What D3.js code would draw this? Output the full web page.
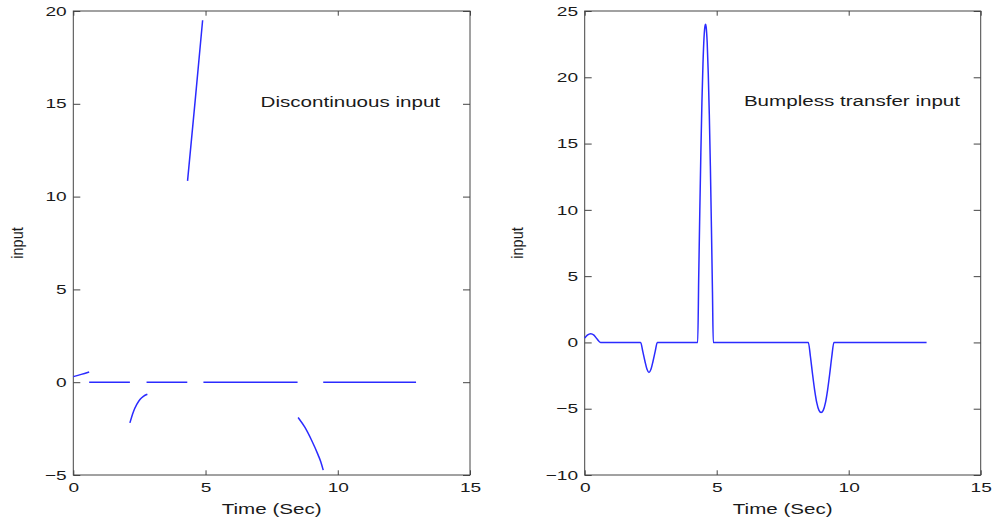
<!DOCTYPE html>
<html>
<head>
<meta charset="utf-8">
<script src="https://cdn.jsdelivr.net/npm/d3@7/dist/d3.min.js"></script>
<style>
  html, body { margin: 0; padding: 0; background: #fff; }
  svg { display: block; }
  text { font-family: "Liberation Sans", Arial, Helvetica, sans-serif; fill: #1a1a1a; }
</style>
</head>
<body>
<svg id="chart" width="993" height="522"></svg>
<script>
// ---------------- data ----------------
const xTickValues = [0, 5, 10, 15];
const leftYTicks = [-5, 0, 5, 10, 15, 20];
const rightYTicks = [-10, -5, 0, 5, 10, 15, 20, 25];

// Left panel: discontinuous input (separate pieces) [time, input]
const discStart = [[0, 0.3], [0.3, 0.42], [0.6, 0.55]];
const discZeroSpans = [[0.6, 2.14], [2.77, 4.31], [4.92, 8.48], [9.45, 12.96]];
const discDip1 = [[2.14, -2.19], [2.27, -1.6], [2.4, -1.2], [2.52, -0.93], [2.65, -0.76], [2.8, -0.65]];
const discSpike = [[4.32, 10.85], [4.61, 15.2], [4.89, 19.5]];
const discDip2 = [[8.5, -1.9], [8.76, -2.44], [9.01, -3.13], [9.26, -3.93], [9.36, -4.3], [9.45, -4.74]];

// Right panel: bumpless transfer input [time, input]
const bumplessStart = [[0, 0.33], [0.1, 0.55], [0.23, 0.66], [0.35, 0.55], [0.47, 0.25], [0.6, 0]];
const bumplessDip1 = [[2.12, 0], [2.2, -0.68], [2.28, -1.4], [2.36, -2.03], [2.435, -2.26], [2.51, -2.03], [2.59, -1.4], [2.67, -0.68], [2.75, 0]];
const bumplessSpike = [[4.28, 0], [4.32, 5.1], [4.36, 9.9], [4.40, 14.3], [4.44, 18.1], [4.48, 21.0], [4.52, 23.0], [4.56, 23.9], [4.58, 24.0], [4.60, 23.8], [4.64, 22.6], [4.68, 20.3], [4.72, 17.2], [4.76, 13.3], [4.80, 8.7], [4.84, 3.8], [4.87, 0]];
const bumplessDip2 = [[8.47, 0], [8.55, -1.06], [8.63, -2.38], [8.71, -3.59], [8.79, -4.54], [8.875, -5.12], [8.955, -5.28], [9.035, -5.12], [9.12, -4.54], [9.2, -3.59], [9.28, -2.38], [9.36, -1.06], [9.44, 0]];
const bumplessEnd = [[12.95, 0]];

// ---------------- drawing ----------------
const svg = d3.select("#chart");
const SX = 1.47;           // horizontal glyph stretch seen in the picture
const lineColor = "#2b2bff";
const axisColor = "#444";

function panel(opts) {
  const x = d3.scaleLinear().domain([0, 15]).range([opts.x0, opts.x1]);
  const y = d3.scaleLinear().domain(opts.yDomain).range([opts.yBottom, opts.yTop]);
  const g = svg.append("g");

  // box
  g.append("rect")
    .attr("x", opts.x0).attr("y", opts.yTop)
    .attr("width", opts.x1 - opts.x0).attr("height", opts.yBottom - opts.yTop)
    .attr("fill", "none").attr("stroke", axisColor).attr("stroke-width", 1);

  const styleAxis = sel => {
    sel.select(".domain").remove();
    sel.selectAll(".tick line").attr("stroke", axisColor).attr("stroke-width", 1);
    sel.selectAll("text").attr("font-size", 13).attr("fill", "#1a1a1a")
      .attr("font-family", '"Liberation Sans", Arial, sans-serif');
  };

  // bottom axis
  const gb = g.append("g").attr("transform", `translate(0,${opts.yBottom})`)
    .call(d3.axisBottom(x).tickValues(xTickValues).tickSize(-4.7).tickSizeOuter(0).tickPadding(7.5).tickFormat(d3.format("d")));
  styleAxis(gb);
  gb.selectAll("text").attr("transform", `scale(${SX},1)`);

  // top axis (ticks only)
  const gt = g.append("g").attr("transform", `translate(0,${opts.yTop})`)
    .call(d3.axisTop(x).tickValues(xTickValues).tickSize(-4.7).tickSizeOuter(0).tickFormat(""));
  styleAxis(gt);

  // left axis
  const gl = g.append("g").attr("transform", `translate(${opts.x0},0)`)
    .call(d3.axisLeft(y).tickValues(opts.yTicks).tickSize(-7).tickSizeOuter(0).tickPadding(6.6)
      .tickFormat(d => d < 0 ? "\u2212" + Math.abs(d) : String(d)));
  styleAxis(gl);
  gl.selectAll("text").attr("x", -6.6 / SX).attr("transform", `scale(${SX},1)`);

  // right axis (ticks only)
  const gr = g.append("g").attr("transform", `translate(${opts.x1},0)`)
    .call(d3.axisRight(y).tickValues(opts.yTicks).tickSize(-7).tickSizeOuter(0).tickFormat(""));
  styleAxis(gr);

  // x label
  g.append("text")
    .attr("transform", `translate(${(opts.x0 + opts.x1) / 2},514) scale(${SX},1)`)
    .attr("text-anchor", "middle").attr("font-size", 14)
    .text("Time (Sec)");

  // y label (rotated)
  g.append("text")
    .attr("transform", `translate(${opts.yLabelX},243) scale(1.15,1) rotate(-90)`)
    .attr("text-anchor", "middle").attr("font-size", 14.5)
    .text("input");

  // annotation
  g.append("text")
    .attr("transform", `translate(${x(opts.note[0])},${y(opts.note[1])}) scale(${SX},1)`)
    .attr("font-size", 14)
    .text(opts.note[2]);

  return { g, x, y };
}

// Left panel
const L = panel({
  x0: 73.3, x1: 470, yTop: 11, yBottom: 475,
  yDomain: [-5, 20], yTicks: leftYTicks, yLabelX: 23,
  note: [7.08, 14.83, "Discontinuous input"]
});
const lineL = d3.line().x(d => L.x(d[0])).y(d => L.y(d[1])).curve(d3.curveMonotoneX);
const leftPieces = [discStart, discDip1, discSpike, discDip2]
  .concat(discZeroSpans.map(s => [[s[0], 0], [s[1], 0]]));
L.g.append("g").selectAll("path").data(leftPieces).join("path")
  .attr("d", lineL)
  .attr("fill", "none").attr("stroke", lineColor).attr("stroke-width", 1.5);

// Right panel
const R = panel({
  x0: 584.7, x1: 980.7, yTop: 11, yBottom: 475,
  yDomain: [-10, 25], yTicks: rightYTicks, yLabelX: 522.5,
  note: [6.03, 17.8, "Bumpless transfer input"]
});
const bumpless = [].concat(bumplessStart, bumplessDip1, bumplessSpike, bumplessDip2, bumplessEnd);
const lineR = d3.line().x(d => R.x(d[0])).y(d => R.y(d[1])).curve(d3.curveMonotoneX);
R.g.append("path").datum(bumpless)
  .attr("d", lineR)
  .attr("fill", "none").attr("stroke", lineColor).attr("stroke-width", 1.5)
  .attr("stroke-linejoin", "round");
</script>
</body>
</html>
